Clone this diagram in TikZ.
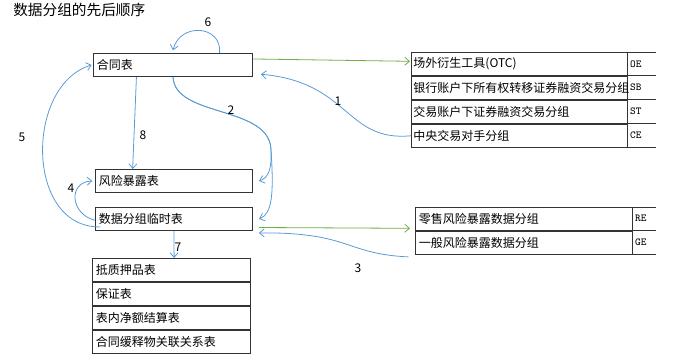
\documentclass[tikz,border=0pt]{standalone}
\usepackage{fontspec}
\setmainfont{Noto Sans CJK SC}
\usetikzlibrary{arrows.meta}

\definecolor{linkblue}{RGB}{91,155,213}
\definecolor{linkgreen}{RGB}{112,173,71}

\tikzset{
  cell/.style={draw=gray!40!black, line width=0.7pt, anchor=north west, minimum height=17.25pt,
    inner xsep=2.5pt, inner ysep=0pt, align=left, font=\small, text width=#1},
  codecell/.style={anchor=north west, minimum height=17.25pt, inner xsep=1.5pt, inner ysep=0pt,
    align=left, font=\ttfamily\footnotesize, text width=#1},
  flow/.style={linkblue, line width=0.6pt, -{Straight Barb[length=3.5pt,width=6pt]}},
  feed/.style={linkgreen, line width=0.6pt, -{Straight Barb[length=3.5pt,width=6pt]}},
  steplabel/.style={font=\small, inner sep=0pt},
}

\begin{document}
\begin{tikzpicture}[x=0.75pt, y=-0.75pt]
\useasboundingbox (0,0) rectangle (675,362);

\node[anchor=west, inner sep=0pt, font=\fontsize{11}{13}\selectfont] (title) at (13,10) {数据分组的先后顺序};

% left column
\node[cell=114.25pt] (hetong) at (93,53) {合同表};
\node[cell=112.75pt] (fengxian) at (95,169) {风险暴露表};
\node[cell=112.75pt] (linshi) at (95,207) {数据分组临时表};

\node[cell=113.5pt] (diya) at (92,258) {抵质押品表};
\node[cell=113.5pt] (baozheng) at (diya.south west) {保证表};
\node[cell=113.5pt] (jinge) at (baozheng.south west) {表内净额结算表};
\node[cell=113.5pt] (huanshi) at (jinge.south west) {合同缓释物关联关系表};

% right tables
\node[cell=157pt, inner xsep=1.5pt, text width=159pt] (oe) at (411,52) {场外衍生工具(OTC)};
\node[cell=157pt, inner xsep=1.5pt, text width=159pt] (sb) at (oe.south west) {银行账户下所有权转移证券融资交易分组};
\node[cell=157pt, inner xsep=1.5pt, text width=159pt] (st) at (sb.south west) {交易账户下证券融资交易分组};
\node[cell=157pt, inner xsep=1.5pt, text width=159pt] (ce) at (st.south west) {中央交易对手分组};
\node[codecell=18pt] (oecode) at (oe.north east) {OE};
\node[codecell=18pt] (sbcode) at (sb.north east) {SB};
\node[codecell=18pt] (stcode) at (st.north east) {ST};
\node[codecell=18pt] (cecode) at (ce.north east) {CE};

\node[cell=157.75pt] (re) at (415,207) {零售风险暴露数据分组};
\node[cell=157.75pt] (ge) at (re.south west) {一般风险暴露数据分组};
\node[codecell=14.25pt] (recode) at (re.north east) {RE};
\node[codecell=14.25pt] (gecode) at (ge.north east) {GE};

\foreach \c in {oecode,sbcode,stcode,cecode,recode,gecode}
  \draw[gray!40!black, line width=0.7pt] (\c.north west) -- (\c.north east) (\c.south west) -- (\c.south east);

% green feeds
\draw[feed] ([yshift=4.5pt]hetong.east) -- ([xshift=-0.75pt,yshift=2pt]oe.west);
\draw[feed] ([xshift=4.5pt,yshift=-6.4pt]linshi.east) -- ([xshift=-3.75pt,yshift=-7pt]re.west);

% blue order
\draw[flow] (ce.west) .. controls (345,142) and (350,82) .. ([xshift=6pt,yshift=2pt]hetong.south east);
\draw[flow] (hetong.south) .. controls (175,118) and (270,105) .. (271,150)
  .. controls (272,170) and (268,178) .. ([xshift=4.5pt]fengxian.east);
\draw[flow] (hetong.south) .. controls (175,118) and (270,105) .. (271,150)
  .. controls (274,195) and (272,214) .. ([xshift=4.5pt]linshi.east);
\draw[flow] ([xshift=-5pt,yshift=-1.5pt]ge.south west) .. controls (345,254) and (350,232) .. ([xshift=4.5pt,yshift=-1.5pt]linshi.south east);
\draw[flow] ([yshift=-1pt]linshi.west) .. controls (70,214) and (68,182) .. ([xshift=-2pt]fengxian.west);
\draw[flow] ([xshift=4pt,yshift=3pt]linshi.south west) .. controls (25,228) and (25,85) .. ([xshift=-1pt]hetong.west);
\draw[flow] ([xshift=35pt]hetong.north) .. controls (222,25) and (180,22) .. ([yshift=2pt]hetong.north);
\draw[flow] ([xshift=-27.4pt]hetong.south) -- ([xshift=-31pt]fengxian.north);
\draw[flow] (linshi.south) -- ([xshift=2pt]diya.north);

% step numbers
\node[steplabel] (lab1) at (338,101) {1};
\node[steplabel] (lab2) at (231,110) {2};
\node[steplabel] (lab3) at (358,268) {3};
\node[steplabel] (lab4) at (71,188) {4};
\node[steplabel] (lab5) at (22,137) {5};
\node[steplabel] (lab6) at (208,22) {6};
\node[steplabel] (lab7) at (178,247) {7};
\node[steplabel] (lab8) at (143,135) {8};
\end{tikzpicture}
\end{document}
